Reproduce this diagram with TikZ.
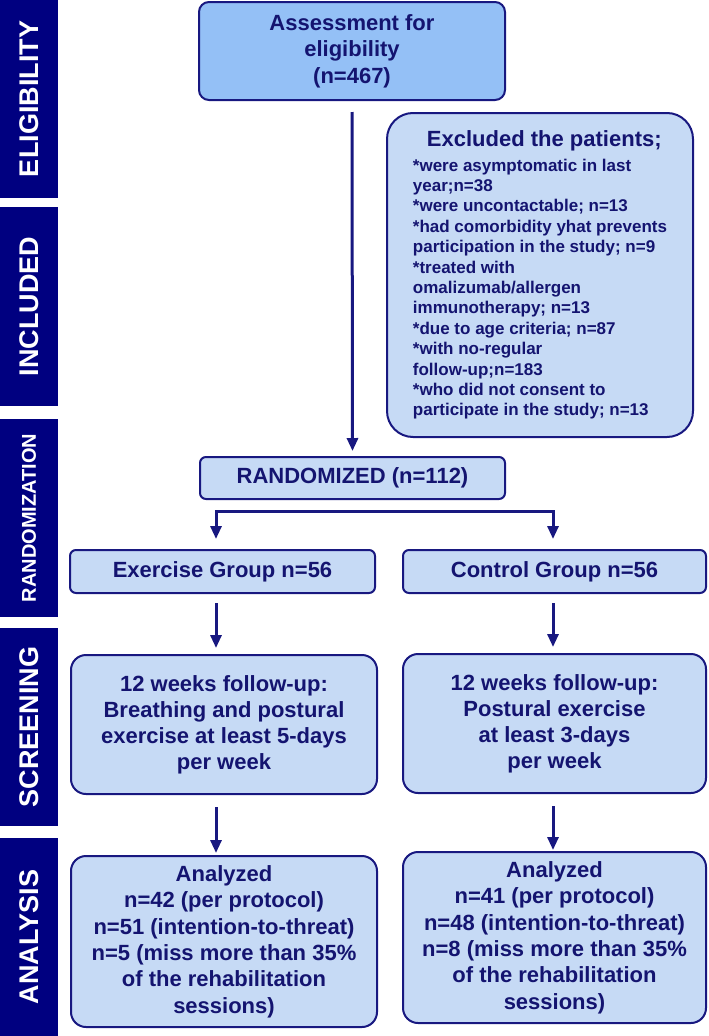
\documentclass[tikz,border=0pt]{standalone}
\usepackage{fontspec}
\setmainfont{Liberation Sans}
\usetikzlibrary{arrows.meta, positioning}
\definecolor{barblue}{RGB}{0,0,128}
\definecolor{edgeblue}{RGB}{24,24,128}
\definecolor{textblue}{RGB}{20,20,112}
\definecolor{boxfill}{RGB}{198,218,245}
\definecolor{topfill}{RGB}{148,192,246}
\tikzstyle{phase} = [rectangle, fill=barblue, text=white, rotate=90, minimum width=198pt, minimum height=58pt, inner sep=0pt, font=\fontsize{27}{30}\selectfont\bfseries]
\tikzstyle{box} = [rectangle, rounded corners=7pt, draw=edgeblue, line width=2pt, fill=boxfill, text=textblue, align=center, inner sep=0pt, font=\fontsize{22}{26}\selectfont\bfseries]
\tikzstyle{arrow} = [draw=edgeblue, line width=3pt, -{Triangle[length=13pt,width=11pt]}]

\begin{document}
\begin{tikzpicture}[x=1pt, y=-1pt]
  \useasboundingbox (0,0) rectangle (709,1036);
  % phase bars
  \node[phase] (elig) at (29,99) {ELIGIBILITY};
  \node[phase, minimum width=199pt] (incl) at (29,306.5) {INCLUDED};
  \node[phase, font=\fontsize{20}{24}\selectfont\bfseries] (randbar) at (29,518) {RANDOMIZATION};
  \node[phase] (scrbar) at (29,727) {SCREENING};
  \node[phase] (anabar) at (29,937) {ANALYSIS};

  % boxes
  \node[box, fill=topfill, rounded corners=10pt, minimum width=306pt, minimum height=98pt, font=\fontsize{22}{26.5}\selectfont\bfseries] (assess) at (352,51) {Assessment for\\eligibility\\(n=467)};
  \node[box, rounded corners=26pt, minimum width=306pt, minimum height=324pt, align=left, font=\fontsize{17}{20.4}\selectfont\bfseries] (excl) at (540,275)
    {\hspace*{14pt}{\fontsize{22}{26}\selectfont Excluded the patients;}\\[4pt]
     *were asymptomatic in last\\
     year;n=38\\
     *were uncontactable; n=13\\
     *had comorbidity yhat prevents\\
     participation in the study; n=9\\
     *treated with\\
     omalizumab/allergen\\
     immunotherapy; n=13\\
     *due to age criteria; n=87\\
     *with no-regular\\
     follow-up;n=183\\
     *who did not consent to\\
     participate in the study; n=13};
  \node[box, rounded corners=6pt, minimum width=305pt, minimum height=42pt] (rnd) at (352.5,478) {RANDOMIZED (n=112)};
  \node[box, rounded corners=6pt, minimum width=305pt, minimum height=43pt] (exer) at (222.5,571.5) {Exercise Group n=56};
  \node[box, rounded corners=6pt, minimum width=303pt, minimum height=43pt] (ctrl) at (554.5,571.5) {Control Group n=56};
  \node[box, rounded corners=15pt, minimum width=306pt, minimum height=139pt] (scrL) at (224,724.5) {12 weeks follow-up:\\Breathing and postural\\exercise at least 5-days\\per week};
  \node[box, rounded corners=15pt, minimum width=303pt, minimum height=139pt] (scrR) at (554.5,723.5) {12 weeks follow-up:\\Postural exercise\\at least 3-days\\per week};
  \node[box, rounded corners=15pt, minimum width=306pt, minimum height=171pt, font=\fontsize{22}{26.4}\selectfont\bfseries] (anaL) at (224,941.5) {Analyzed\\n=42 (per protocol)\\n=51 (intention-to-threat)\\n=5 (miss more than 35\%\\of the rehabilitation\\sessions)};
  \node[box, rounded corners=15pt, minimum width=303pt, minimum height=171pt, font=\fontsize{22}{26.4}\selectfont\bfseries] (anaR) at (554.5,937.5) {Analyzed\\n=41 (per protocol)\\n=48 (intention-to-threat)\\n=8 (miss more than 35\%\\of the rehabilitation\\sessions)};

  % connectors
  \coordinate (lcol) at (216,511);
  \coordinate (rcol) at (553,511);
  \draw[arrow, shorten <=11pt, shorten >=5pt] (assess.south) -- (rnd.north);
  \draw[arrow, {Triangle[length=13pt,width=11pt]}-{Triangle[length=13pt,width=11pt]}, shorten <=10pt, shorten >=10pt] (exer.north -| lcol) -- (lcol) -- (rcol) -- (ctrl.north -| rcol);
  \draw[arrow, shorten <=9pt, shorten >=6pt] (exer.south -| lcol) -- (scrL.north -| lcol);
  \draw[arrow, shorten <=9pt, shorten >=6pt] (ctrl.south -| rcol) -- (scrR.north -| rcol);
  \draw[arrow, shorten <=12pt, shorten >=2pt] (scrL.south -| lcol) -- (anaL.north -| lcol);
  \draw[arrow, shorten <=12pt, shorten >=1pt] (scrR.south -| rcol) -- (anaR.north -| rcol);
\end{tikzpicture}
\end{document}
